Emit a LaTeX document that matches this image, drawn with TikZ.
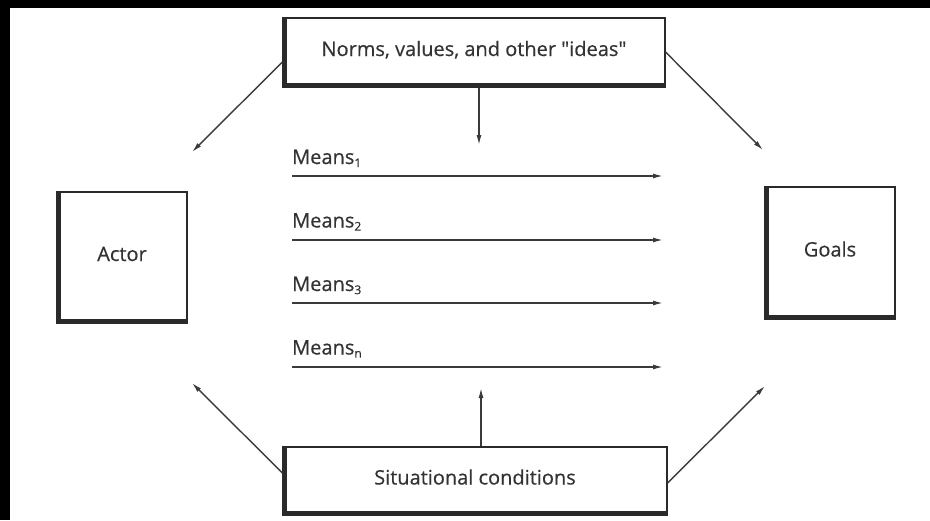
\documentclass[tikz,border=0pt]{standalone}
\usepackage{fontspec}
\setmainfont{Open Sans}[Ligatures=TeXOff,FakeBold=0.45]
\usetikzlibrary{arrows.meta,calc}
\definecolor{ink}{HTML}{2A2A2A}
\definecolor{txt}{HTML}{333333}
\definecolor{arr}{HTML}{3A3A3A}
\begin{document}
\begin{tikzpicture}[x=1pt,y=-1pt,
  box/.style={draw=ink,line width=1.1pt,minimum width=#1,inner sep=0pt,text height=15pt,text depth=8pt,font=\fontsize{20}{24}\selectfont,text=txt},
  heavy/.style={draw=ink,line width=4.5pt},
  conn/.style={draw=arr,line width=1.4pt,-{Latex[length=10pt,width=5pt]}},
  lab/.style={anchor=base west,inner sep=0pt,font=\fontsize{20}{24}\selectfont,text=txt}]
\useasboundingbox (0,0) rectangle (930,520);
\fill[white] (0,0) rectangle (930,520);
\fill[black] (0,0) rectangle (930,8);
\fill[black] (0,0) rectangle (10,520);
% boxes
\node[box=382pt,minimum height=69pt] (top) at (474,52.5) {Norms, values, and other "ideas"};
\node[box=130pt,minimum height=131pt] (actor) at (122,257.5) {Actor};
\node[box=130pt,minimum height=132pt] (goals) at (830,253) {Goals};
\node[box=384pt,minimum height=68pt] (bot) at (475,481) {Situational conditions};
\foreach \n in {top,actor,goals,bot}{
  \draw[heavy] ($(\n.north west)+(2,0)$) -- ($(\n.south west)+(2,-2)$) -- ($(\n.south east)+(0,-2)$);
}
% means
\node[lab] (l1) at (292,164) {Means\textsubscript{\fontsize{12}{14}\selectfont 1}};
\node[lab] (l2) at (292,227.5) {Means\textsubscript{\fontsize{12}{14}\selectfont 2}};
\node[lab] (l3) at (292,291) {Means\textsubscript{\fontsize{12}{14}\selectfont 3}};
\node[lab] (l4) at (292,354.5) {Means\textsubscript{\fontsize{12}{14}\selectfont n}};
\coordinate (m1s) at (292,176); \coordinate (m1e) at (663,176);
\coordinate (m2s) at (292,240); \coordinate (m2e) at (663,240);
\coordinate (m3s) at (292,303); \coordinate (m3e) at (663,303);
\coordinate (m4s) at (292,367); \coordinate (m4e) at (663,367);
\foreach \i in {1,2,3,4}{ \draw[conn] (m\i s) -- (m\i e); }
% vertical arrows
\coordinate (td) at (479,145);
\coordinate (bu) at (481,388);
\draw[conn] (top.south -| td) -- (td);
\draw[conn] (bot.north -| bu) -- (bu);
% diagonals
\coordinate (tl) at (192,152);
\coordinate (tr) at (763,150);
\coordinate (bl) at (192,383);
\coordinate (br) at (765,386);
\draw[conn] (top.west |- 0,62) -- (tl);
\draw[conn] (top.east |- 0,52) -- (tr);
\draw[conn] (bot.west |- 0,473) -- (bl);
\draw[conn] (bot.east |- 0,483) -- (br);
\end{tikzpicture}
\end{document}
